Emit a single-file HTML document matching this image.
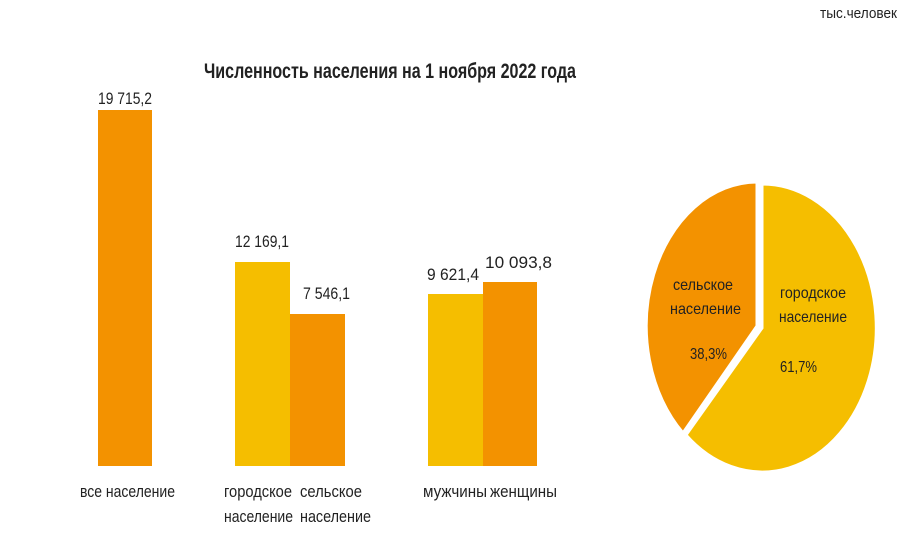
<!DOCTYPE html>
<html><head><meta charset="utf-8"><style>
body{margin:0;background:#fff;}
svg text{font-family:"Liberation Sans Narrow","Liberation Sans",sans-serif;fill:#222;}
</style></head><body>
<svg width="923" height="532" viewBox="0 0 923 532" xmlns="http://www.w3.org/2000/svg">
<rect width="923" height="532" fill="#fff"/>
<text x="820" y="18" font-size="15" textLength="77" lengthAdjust="spacingAndGlyphs">тыс.человек</text>
<text x="204" y="78" font-size="21" font-weight="bold" textLength="372" lengthAdjust="spacingAndGlyphs">Численность населения на 1 ноября 2022 года</text>
<rect x="98" y="110" width="54" height="356" fill="#F39200"/>
<rect x="235" y="262" width="55" height="204" fill="#F5BE00"/>
<rect x="290" y="314" width="55" height="152" fill="#F39200"/>
<rect x="428" y="294" width="55" height="172" fill="#F5BE00"/>
<rect x="483" y="282" width="54" height="184" fill="#F39200"/>
<g font-size="17">
<text x="98" y="104" textLength="54" lengthAdjust="spacingAndGlyphs">19 715,2</text>
<text x="235" y="247" textLength="54" lengthAdjust="spacingAndGlyphs">12 169,1</text>
<text x="303" y="299" textLength="47" lengthAdjust="spacingAndGlyphs">7 546,1</text>
<text x="427" y="280" textLength="52" lengthAdjust="spacingAndGlyphs">9 621,4</text>
<text x="485" y="268" textLength="67" lengthAdjust="spacingAndGlyphs">10 093,8</text>
<text x="80" y="497" textLength="95" lengthAdjust="spacingAndGlyphs">все население</text>
<text x="224" y="497" textLength="68" lengthAdjust="spacingAndGlyphs">городское</text>
<text x="224" y="522" textLength="69" lengthAdjust="spacingAndGlyphs">население</text>
<text x="300" y="497" textLength="62" lengthAdjust="spacingAndGlyphs">сельское</text>
<text x="300" y="522" textLength="71" lengthAdjust="spacingAndGlyphs">население</text>
<text x="423" y="497" textLength="64" lengthAdjust="spacingAndGlyphs">мужчины</text>
<text x="490" y="497" textLength="67" lengthAdjust="spacingAndGlyphs">женщины</text>
</g>
<path d="M762,328 L762,184 A114,144 0 1 1 686,435 Z" fill="#F5BE00" stroke="#fff" stroke-width="3"/>
<path d="M757,326 L683,433 A111,144 0 0 1 757,182 Z" fill="#F39200" stroke="#fff" stroke-width="3"/>
<g font-size="16">
<text x="673" y="290" textLength="60" lengthAdjust="spacingAndGlyphs">сельское</text>
<text x="670" y="314" textLength="71" lengthAdjust="spacingAndGlyphs">население</text>
<text x="690" y="359" textLength="37" lengthAdjust="spacingAndGlyphs">38,3%</text>
<text x="780" y="298" textLength="66" lengthAdjust="spacingAndGlyphs">городское</text>
<text x="779" y="322" textLength="68" lengthAdjust="spacingAndGlyphs">население</text>
<text x="780" y="372" textLength="37" lengthAdjust="spacingAndGlyphs">61,7%</text>
</g>
</svg>
</body></html>
